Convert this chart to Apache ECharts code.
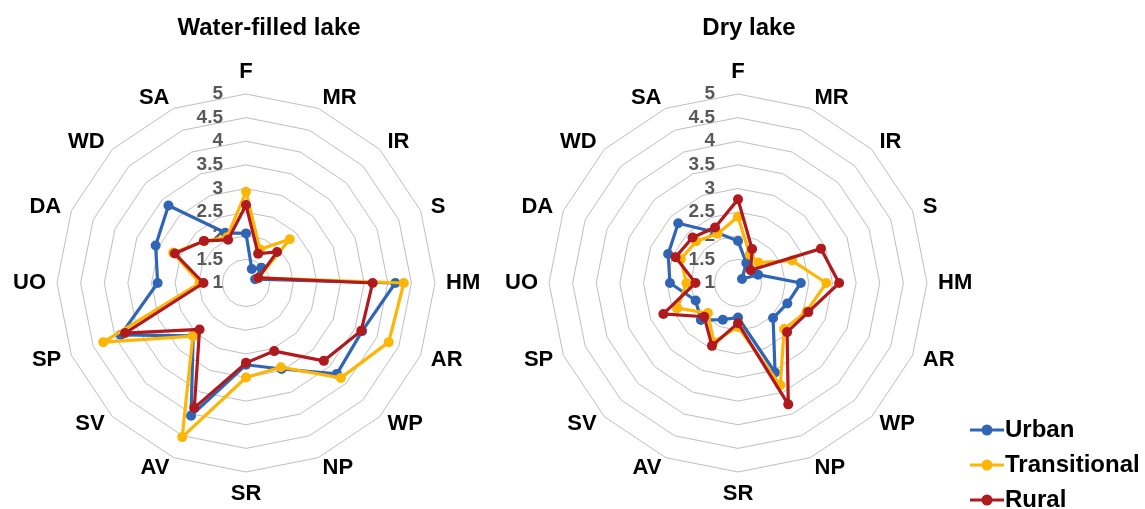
<!DOCTYPE html>
<html>
<head>
<meta charset="utf-8">
<script src="https://cdn.jsdelivr.net/npm/echarts@6/dist/echarts.min.js"></script>
<style>
html,body{margin:0;padding:0;background:#fff;}
#chart{width:1145px;height:509px;}
</style>
</head>
<body>
<div id="chart"></div>
<script>
// Indicators in clockwise order starting from the top
const categories = ['F','MR','IR','S','HM','AR','WP','NP','SR','AV','SV','SP','UO','DA','WD','SA'];
const panelTitles = ['Water-filled lake', 'Dry lake'];
const seriesNames = ['Urban', 'Transitional', 'Rural'];
const tickLabels = ['1','1.5','2','2.5','3','3.5','4','4.5','5'];

// Water-filled lake
const waterUrban        = [2.05,1.32,1.46,1.21,4.16,3.66,3.72,2.97,2.73,4.04,2.58,3.87,2.87,3.07,3.32,2.15];
const waterTransitional = [2.93,1.77,2.31,1.28,4.34,4.27,3.84,2.93,3.00,4.53,2.59,4.27,1.98,2.67,2.25,2.05];
const waterRural        = [2.65,1.67,1.93,1.28,3.68,3.64,3.33,2.56,2.69,3.86,2.39,3.77,1.90,2.63,2.26,1.99];

// Dry lake
const dryUrban        = [1.89,1.46,1.12,1.46,2.33,2.13,2.05,3.05,1.73,1.84,2.11,1.97,2.44,2.60,2.79,2.15];
const dryTransitional = [2.40,1.65,1.61,2.24,2.87,2.57,2.38,3.34,1.93,2.35,1.90,2.39,2.09,2.31,2.25,2.13];
const dryRural        = [2.77,1.78,1.38,2.90,3.14,2.61,2.47,3.78,1.85,2.44,2.01,2.71,1.90,2.43,2.36,2.27];

const colors = ['#3065B5', '#FDB606', '#B0191E'];
const FONT = '"Liberation Sans", Arial, sans-serif';

// ECharts lays radar indicators counter-clockwise; reorder to get clockwise.
const order = [0].concat(categories.map((_, i) => i).slice(1).reverse());
const reorder = arr => order.map(i => arr[i]);

function indicators() {
  return order.map((i, k) => {
    const ind = { name: categories[i], min: 1, max: 5 };
    if (k === 0) {
      ind.axisLabel = {
        show: true,
        showMinLabel: true,
        showMaxLabel: true,
        color: '#595959',
        fontFamily: FONT,
        fontWeight: 'bold',
        fontSize: 19,
        margin: 23,
        formatter: v => { const s = String(+v.toFixed(1)); return tickLabels.includes(s) ? s : ''; }
      };
    }
    return ind;
  });
}

function radarCfg(cx) {
  return {
    center: [cx, 283],
    radius: 189,
    startAngle: 90,
    shape: 'polygon',
    splitNumber: 8,
    indicator: indicators(),
    axisName: { color: '#000', fontFamily: FONT, fontWeight: 'bold', fontSize: 22 },
    nameGap: 11,
    axisLine: { show: false },
    axisTick: { show: false },
    axisLabel: { show: false },
    splitLine: { lineStyle: { color: '#BFBFBF', width: 1 } },
    splitArea: { show: false }
  };
}

const panels = [
  [waterUrban, waterTransitional, waterRural],
  [dryUrban, dryTransitional, dryRural]
];

const series = [];
panels.forEach((p, ri) => {
  p.forEach((vals, si) => {
    series.push({
      type: 'radar',
      radarIndex: ri,
      name: seriesNames[si],
      symbol: 'circle',
      symbolSize: 10,
      lineStyle: { width: 3.2, color: colors[si] },
      itemStyle: { color: colors[si] },
      z: 2 + si,
      data: [{ value: reorder(vals), name: seriesNames[si] }]
    });
  });
});

const legendIcon = 'path://M0,4 L34,4 L34,7 L0,7 Z M17,0 A5.5,5.5 0 1 1 16.99,0 Z';

const chart = echarts.init(document.getElementById('chart'), null, { renderer: 'canvas' });
chart.setOption({
  animation: false,
  backgroundColor: '#fff',
  color: colors,
  title: [
    { text: panelTitles[0], left: 264, top: 11, textAlign: 'center',
      textStyle: { fontFamily: FONT, fontWeight: 'bold', fontSize: 24, color: '#000' } },
    { text: panelTitles[1], left: 744, top: 11, textAlign: 'center',
      textStyle: { fontFamily: FONT, fontWeight: 'bold', fontSize: 24, color: '#000' } }
  ],
  legend: {
    data: seriesNames.map(n => ({ name: n, icon: legendIcon })),
    orient: 'vertical',
    left: 970,
    top: 418,
    width: 175,
    height: 200,
    padding: 0,
    itemWidth: 34,
    itemHeight: 11,
    itemGap: 11,
    textStyle: { fontFamily: FONT, fontWeight: 'bold', fontSize: 24, lineHeight: 24, color: '#000', padding: [0,0,0,-4] }
  },
  radar: [radarCfg(246), radarCfg(738)],
  series: series
});
</script>
</body>
</html>
